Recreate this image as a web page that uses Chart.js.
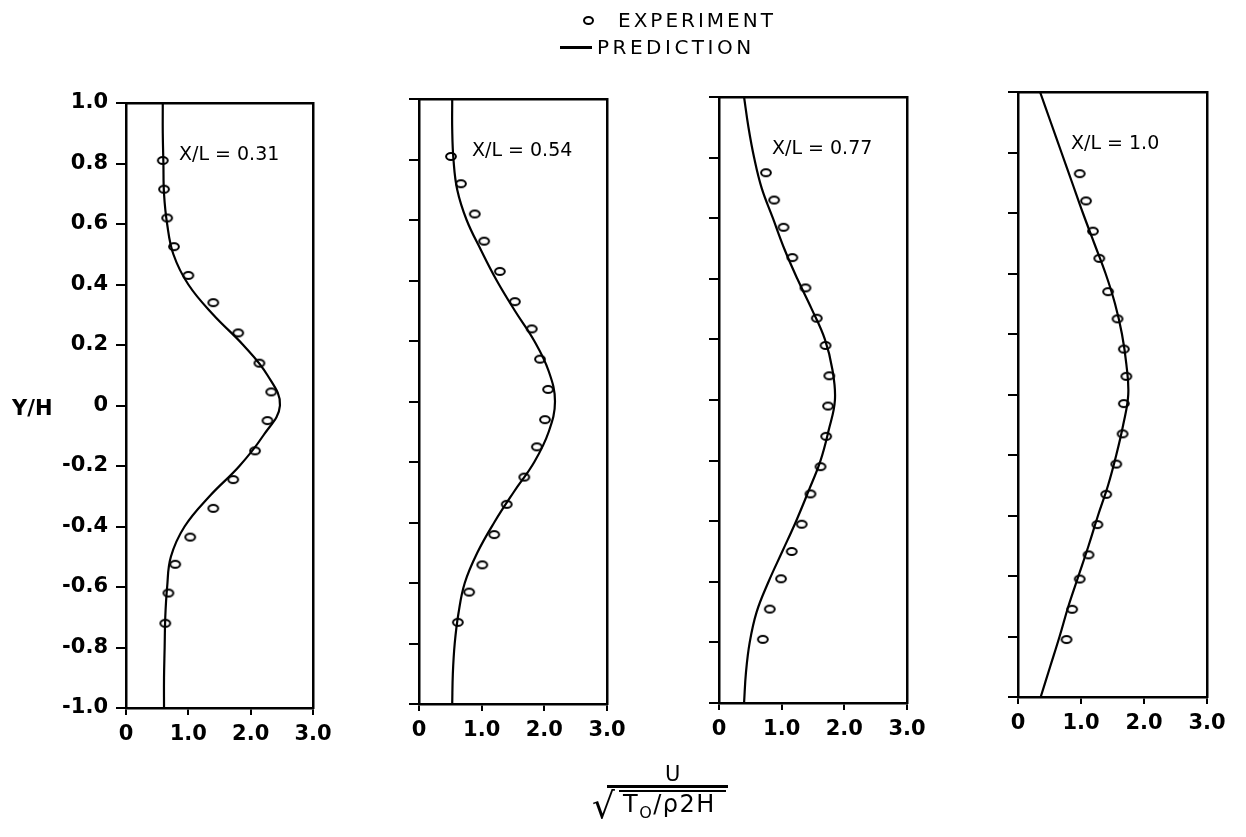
<!DOCTYPE html>
<html>
<head>
<meta charset="utf-8">
<script src="https://cdn.jsdelivr.net/npm/chart.js@4.4.1/dist/chart.umd.min.js"></script>
<style>
html,body{margin:0;padding:0;background:#fff;}
#wrap{position:relative;width:1246px;height:837px;overflow:hidden;font-family:"DejaVu Sans",sans-serif;color:#000;background:#fff;}
#wrap canvas{position:absolute;left:0;top:0;}
.txt{position:absolute;white-space:nowrap;font-size:20px;line-height:24px;}
.bar{position:absolute;background:#000;}
</style>
</head>
<body>
<div id="wrap">
  <canvas id="p0" width="1246" height="837"></canvas>
  <canvas id="p1" width="1246" height="837"></canvas>
  <canvas id="p2" width="1246" height="837"></canvas>
  <canvas id="p3" width="1246" height="837"></canvas>

  <!-- legend -->
  <div style="position:absolute;left:583px;top:16px;width:7px;height:5px;border:2px solid #000;border-radius:50%;"></div>
  <div class="txt" style="left:618px;top:8px;letter-spacing:3px;">EXPERIMENT</div>
  <div class="bar" style="left:560px;top:46px;width:32px;height:2.5px;"></div>
  <div class="txt" style="left:597px;top:35px;letter-spacing:3.5px;">PREDICTION</div>

  <!-- y axis title -->
  <div class="txt" style="left:12px;top:396px;font-weight:bold;font-size:21px;">Y/H</div>

  <!-- x axis title -->
  <div class="txt" style="left:665px;top:762px;font-size:21px;">U</div>
  <div class="bar" style="left:607px;top:785px;width:121px;height:2.5px;"></div>
  <div class="bar" style="left:619px;top:790px;width:107px;height:2px;"></div>
  <div class="txt" style="left:592px;top:786px;font-size:36px;line-height:40px;">√</div>
  <div class="txt" style="left:623px;top:790px;font-size:24px;line-height:28px;letter-spacing:1.5px;">T<span style="font-size:16px;position:relative;top:6px;">O</span>/ρ2H</div>
</div>

<script>
// ---------------- DATA ----------------
const yTickValues = [1.0, 0.8, 0.6, 0.4, 0.2, 0, -0.2, -0.4, -0.6, -0.8, -1.0];
const yTickLabels = ['1.0', '0.8', '0.6', '0.4', '0.2', '0', '-0.2', '-0.4', '-0.6', '-0.8', '-1.0'];
const xTickValues = [0, 1, 2, 3];
const xTickLabels = ['0', '1.0', '2.0', '3.0'];
const panelTitles = ['X/L = 0.31', 'X/L = 0.54', 'X/L = 0.77', 'X/L = 1.0'];

// prediction curves: U values at these Y/H stations
const predY   = [1.0, 0.9, 0.8, 0.7, 0.6, 0.5, 0.4, 0.3, 0.2, 0.1, 0, -0.1, -0.2, -0.3, -0.4, -0.5, -0.6, -0.7, -0.8, -0.9, -1.0];
const pred031 = [0.59,0.59,0.60,0.61,0.66,0.76,1.00,1.40,1.88,2.27,2.47,2.20,1.82,1.34,0.94,0.72,0.66,0.63,0.62,0.61,0.61];
const pred054 = [0.53,0.53,0.55,0.61,0.76,0.99,1.24,1.53,1.84,2.07,2.17,2.07,1.84,1.51,1.20,0.93,0.73,0.63,0.57,0.54,0.53];
const pred077 = [0.40,0.47,0.56,0.68,0.86,1.04,1.25,1.48,1.69,1.81,1.85,1.75,1.62,1.43,1.23,1.01,0.79,0.60,0.49,0.43,0.40];
const pred100 = [0.35,0.52,0.69,0.86,1.03,1.21,1.39,1.54,1.65,1.72,1.75,1.67,1.56,1.43,1.27,1.12,0.96,0.80,0.66,0.51,0.36];

// experiments
const expY031 = [0.81, 0.715, 0.62, 0.525, 0.43, 0.34, 0.24, 0.14, 0.045, -0.05, -0.15, -0.245, -0.34, -0.435, -0.525, -0.62, -0.72];
const expU031 = [0.59, 0.61, 0.66, 0.77, 1.00, 1.40, 1.80, 2.14, 2.33, 2.27, 2.07, 1.72, 1.40, 1.03, 0.79, 0.68, 0.63];
const expY054 = [0.81, 0.72, 0.62, 0.53, 0.43, 0.33, 0.24, 0.14, 0.04, -0.06, -0.15, -0.25, -0.34, -0.44, -0.54, -0.63, -0.73];
const expU054 = [0.51, 0.67, 0.89, 1.04, 1.29, 1.53, 1.80, 1.93, 2.06, 2.01, 1.88, 1.68, 1.40, 1.20, 1.01, 0.80, 0.62];
const expY077 = [0.75, 0.66, 0.57, 0.47, 0.37, 0.27, 0.18, 0.08, -0.02, -0.12, -0.22, -0.31, -0.41, -0.50, -0.59, -0.69, -0.79];
const expU077 = [0.75, 0.88, 1.03, 1.17, 1.38, 1.56, 1.70, 1.76, 1.74, 1.71, 1.62, 1.46, 1.32, 1.16, 0.99, 0.81, 0.70];
const expY100 = [0.73, 0.64, 0.54, 0.45, 0.34, 0.25, 0.15, 0.06, -0.03, -0.13, -0.23, -0.33, -0.43, -0.53, -0.61, -0.71, -0.81];
const expU100 = [0.98, 1.08, 1.19, 1.29, 1.43, 1.58, 1.68, 1.72, 1.68, 1.66, 1.56, 1.40, 1.26, 1.12, 0.98, 0.86, 0.77];

// ---------------- LAYOUT / STYLE ----------------
const W = 1246, H = 837;
const boxes = [
  {l:126, r:313, t:103, b:708},
  {l:419, r:607, t:99,  b:704},
  {l:719, r:907, t:97,  b:703},
  {l:1018, r:1207, t:92, b:697}
];

Chart.defaults.font.family = '"DejaVu Sans", sans-serif';
Chart.defaults.color = '#000';

// hollow elliptical marker
const marker = document.createElement('canvas');
marker.width = 14; marker.height = 11;
(function(){
  const c = marker.getContext('2d');
  c.strokeStyle = '#000'; c.lineWidth = 2;
  c.beginPath(); c.ellipse(7, 5.5, 4.9, 3.5, 0, 0, Math.PI*2); c.stroke();
})();

const panelLabel = {
  id: 'panelLabel',
  afterDraw(chart, args, opts) {
    const {ctx, chartArea} = chart;
    ctx.save();
    ctx.font = '19px "DejaVu Sans"';
    ctx.fillStyle = '#000';
    ctx.textAlign = 'left';
    ctx.textBaseline = 'middle';
    ctx.fillText(opts.text, chartArea.left + 53, chartArea.top + 52);
    ctx.restore();
  }
};

function makePanel(id, box, predU, expU, expY, title, showYLabels) {
  const yw = showYLabels ? 80 : 16;
  const xh = 40;
  const tickFont = {family: '"DejaVu Sans"', size: 21, weight: 'bold'};
  new Chart(document.getElementById(id), {
    type: 'scatter',
    data: {
      datasets: [
        {
          label: 'PREDICTION',
          data: predY.map((y, i) => ({x: predU[i], y: y})),
          showLine: true, borderColor: '#000', borderWidth: 2.2,
          pointRadius: 0, tension: 0.4, fill: false, order: 2
        },
        {
          label: 'EXPERIMENT',
          data: expY.map((y, i) => ({x: expU[i], y: y})),
          showLine: false, pointStyle: marker, pointRadius: 5,
          borderColor: '#000', backgroundColor: 'rgba(0,0,0,0)', order: 1
        }
      ]
    },
    options: {
      responsive: false, animation: false, events: [],
      layout: {autoPadding: false, padding: {left: box.l - yw, right: W - box.r, top: box.t, bottom: H - box.b - xh}},
      plugins: {legend: {display: false}, tooltip: {enabled: false}, panelLabel: {text: title}},
      scales: {
        x: {
          type: 'linear', position: 'bottom', min: 0, max: 3,
          afterBuildTicks: s => { s.ticks = xTickValues.map(v => ({value: v})); },
          afterFit: s => { s.height = xh; },
          ticks: {callback: v => xTickLabels[xTickValues.indexOf(v)], font: tickFont, color: '#000', padding: 7, autoSkip: false, maxRotation: 0},
          grid: {display: true, drawOnChartArea: false, drawTicks: true, tickLength: 7, color: '#000', lineWidth: 2},
          border: {display: true, color: '#000', width: 2.5}
        },
        y: {
          type: 'linear', position: 'left', min: -1, max: 1,
          afterBuildTicks: s => { s.ticks = yTickValues.map(v => ({value: v})); },
          afterFit: s => { s.width = yw; },
          ticks: {callback: v => showYLabels ? yTickLabels[yTickValues.indexOf(v)] : '', font: tickFont, color: '#000', padding: 8, autoSkip: false},
          grid: {display: true, drawOnChartArea: false, drawTicks: true, tickLength: 10, color: '#000', lineWidth: 2},
          border: {display: true, color: '#000', width: 2.5}
        },
        x2: {
          type: 'linear', position: 'top', min: 0, max: 3,
          afterFit: s => { s.height = 0; },
          ticks: {display: false}, grid: {display: false},
          border: {display: true, color: '#000', width: 2.5}
        },
        y2: {
          type: 'linear', position: 'right', min: -1, max: 1,
          afterFit: s => { s.width = 0; },
          ticks: {display: false}, grid: {display: false},
          border: {display: true, color: '#000', width: 2.5}
        }
      }
    },
    plugins: [panelLabel]
  });
}

makePanel('p0', boxes[0], pred031, expU031, expY031, panelTitles[0], true);
makePanel('p1', boxes[1], pred054, expU054, expY054, panelTitles[1], false);
makePanel('p2', boxes[2], pred077, expU077, expY077, panelTitles[2], false);
makePanel('p3', boxes[3], pred100, expU100, expY100, panelTitles[3], false);
</script>
</body>
</html>
